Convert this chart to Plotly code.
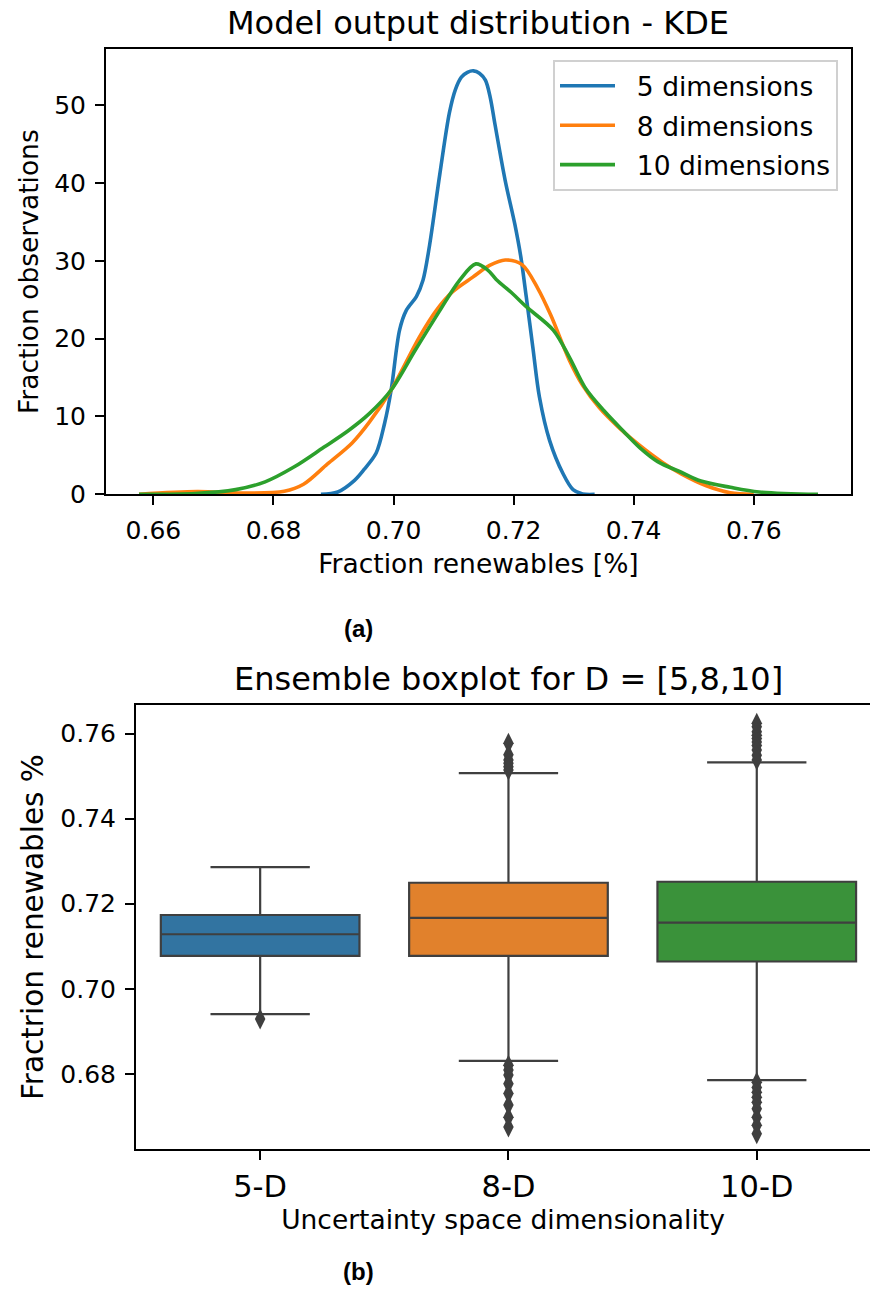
import plotly.graph_objects as go

W, H = 870, 1302
PAGE_H = 1318  # height of the rendered page that holds the figure

# KDE curves of the model output (fraction renewables vs. density)
x_5d = [0.6879, 0.6907, 0.6935, 0.6951, 0.6971, 0.6985, 0.6996, 0.7010, 0.7021, 0.7038,
        0.7049, 0.7060, 0.7077, 0.7093, 0.7103, 0.7113, 0.7123, 0.7133, 0.7143, 0.7153,
        0.7161, 0.7169, 0.7186, 0.7202, 0.7212, 0.7221, 0.7232, 0.7243, 0.7260, 0.7282,
        0.7299, 0.7315, 0.7335]
y_5d = [0.0, 0.3, 1.8, 3.2, 5.3, 9.1, 13.4, 21.1, 23.6, 25.4,
        27.5, 32.0, 41.1, 49.0, 52.0, 53.6, 54.2, 54.4, 54.1, 53.2,
        51.0, 47.5, 40.3, 34.7, 30.5, 25.4, 18.9, 12.5, 6.9, 2.7,
        0.6, 0.05, 0.0]

x_8d = [0.6576, 0.6673, 0.6750, 0.6818, 0.6850, 0.6890, 0.6931, 0.6960, 0.6996, 0.7043,
        0.7071, 0.7098, 0.7132, 0.7160, 0.7186, 0.7214, 0.7240, 0.7262, 0.7293, 0.7315,
        0.7343, 0.7375, 0.7408, 0.7448, 0.7480, 0.7521, 0.7561, 0.7600]
y_8d = [0.0, 0.35, 0.15, 0.4, 1.3, 3.9, 6.6, 9.3, 13.4, 20.2,
        23.6, 26.0, 27.9, 29.4, 30.1, 29.5, 26.5, 23.0, 17.2, 14.0,
        11.1, 8.6, 6.4, 4.1, 2.6, 1.1, 0.2, 0.0]

x_10d = [0.6576, 0.6670, 0.6737, 0.6786, 0.6834, 0.6883, 0.6925, 0.6960, 0.6996, 0.7036,
         0.7077, 0.7109, 0.7137, 0.7157, 0.7171, 0.7198, 0.7221, 0.7266, 0.7293, 0.7320,
         0.7351, 0.7383, 0.7410, 0.7440, 0.7480, 0.7512, 0.7561, 0.7609, 0.7707]
y_10d = [0.0, 0.1, 0.6, 1.6, 3.5, 6.0, 8.2, 10.4, 13.4, 18.5,
         23.6, 27.4, 29.6, 28.8, 27.6, 25.8, 24.1, 21.1, 17.6, 13.6,
         10.7, 8.1, 6.0, 4.2, 2.8, 1.7, 0.9, 0.3, 0.0]

kde_names = ["5 dimensions", "8 dimensions", "10 dimensions"]
kde_colors = ["#1f77b4", "#ff7f0e", "#2ca02c"]

# Ensemble box statistics per dimensionality
categories = ["5-D", "8-D", "10-D"]
q1 = [0.70773, 0.70773, 0.70641]
median = [0.71281, 0.71664, 0.71555]
q3 = [0.71734, 0.72492, 0.72516]
lower_whisker = [0.69406, 0.68305, 0.67852]
upper_whisker = [0.72859, 0.75070, 0.75320]
outliers = {
    "5-D": [0.6929],
    "8-D": [0.7577, 0.7550, 0.7538, 0.7530, 0.7522, 0.7514,
            0.6820, 0.6809, 0.6797, 0.6777, 0.6754, 0.6727, 0.6698, 0.6675],
    "10-D": [0.7624, 0.7616, 0.7604, 0.7596, 0.7588, 0.7580, 0.7572, 0.7561, 0.7549, 0.7538,
             0.6780, 0.6768, 0.6757, 0.6745, 0.6733, 0.6718, 0.6698, 0.6679, 0.6659],
}
box_colors = ["#3274a1", "#e1812c", "#3a923a"]
edge = "#3f3f3f"


def px(xp):
    return xp / W


def py(yp):
    # vertical page position (px from top) -> paper fraction
    return max(0.0, 1 - yp * PAGE_H / H / H)


FONT = "DejaVu Sans"
LEGEND_PAD = "\u00a0\u00a0"  # gap between the legend key line and its label
fig = go.Figure()

for i, (xs, ys, name, col) in enumerate(zip([x_5d, x_8d, x_10d], [y_5d, y_8d, y_10d], kde_names, kde_colors)):
    fig.add_trace(go.Scatter(
        x=xs, y=ys, name=LEGEND_PAD + name, mode="lines", legendgroup=f"g{i}",
        line=dict(color=col, width=3.6, shape="spline", smoothing=0.9),
        xaxis="x", yaxis="y",
    ))

for i, cat in enumerate(categories):
    fig.add_trace(go.Box(
        x=[cat], q1=[q1[i]], median=[median[i]], q3=[q3[i]],
        lowerfence=[lower_whisker[i]], upperfence=[upper_whisker[i]],
        fillcolor=box_colors[i], line=dict(color=edge, width=2.2),
        whiskerwidth=0.5, width=0.8, showlegend=False,
        xaxis="x2", yaxis="y2",
    ))
    fig.add_trace(go.Scatter(
        x=[cat] * len(outliers[cat]), y=outliers[cat], mode="markers",
        marker=dict(symbol="diamond-tall", size=15, color=edge, line=dict(width=0)),
        showlegend=False, xaxis="x2", yaxis="y2",
    ))

axis_common = dict(
    showline=True, linecolor="black", linewidth=2, showgrid=False, zeroline=False,
    ticks="outside", ticklen=9, tickwidth=2, tickcolor="black",
)

fig.update_layout(
    width=W, height=H, margin=dict(l=0, r=0, t=0, b=0),
    paper_bgcolor="white", plot_bgcolor="white",
    font=dict(family=FONT, color="black"),
    xaxis=dict(
        domain=[px(106), px(851)], anchor="y", range=[0.6521, 0.7762],
        tickvals=[0.66, 0.68, 0.70, 0.72, 0.74, 0.76], ticktext=["0.66", "0.68", "0.70", "0.72", "0.74", "0.76"],
        tickfont=dict(size=25), mirror=True, ticklabelstandoff=4,
        title=dict(text="Fraction renewables [%]", font=dict(size=26.5), standoff=10),
        **axis_common,
    ),
    yaxis=dict(
        domain=[py(494), py(49)], anchor="x", range=[0, 57.2],
        tickvals=[0, 10, 20, 30, 40, 50], tickfont=dict(size=25), mirror=True, ticklabelstandoff=4,
        title=dict(text="Fraction observations", font=dict(size=26.5), standoff=8),
        **axis_common,
    ),
    xaxis2=dict(
        domain=[px(136), 1.0], anchor="y2", type="category",
        categoryorder="array", categoryarray=categories, range=[-0.5, 2.456],
        tickfont=dict(size=30.5), mirror=True, ticklabelstandoff=1,
        title=dict(text="Uncertainty space dimensionality", font=dict(size=26.5), standoff=3),
        **axis_common,
    ),
    yaxis2=dict(
        domain=[py(1148), py(705)], anchor="x2", range=[0.6624, 0.7666],
        tickvals=[0.68, 0.70, 0.72, 0.74, 0.76], ticktext=["0.68", "0.70", "0.72", "0.74", "0.76"],
        tickfont=dict(size=25), ticklabelstandoff=4,
        title=dict(text="Fractrion renewables %", font=dict(size=29.5), standoff=8),
        **axis_common,
    ),
    legend=dict(
        x=px(838), y=py(60), xanchor="right", yanchor="top",
        bgcolor="rgba(255,255,255,0.85)", bordercolor="#d0d0d0", borderwidth=2,
        font=dict(size=26.5), traceorder="grouped", tracegroupgap=2, itemwidth=55,
    ),
    boxmode="overlay",
    annotations=[
        dict(text="Model output distribution - KDE", x=px(478), y=py(23), xref="paper", yref="paper",
             showarrow=False, font=dict(size=32), xanchor="center", yanchor="middle"),
        dict(text="Ensemble boxplot for D = [5,8,10]", x=px(508), y=py(679), xref="paper", yref="paper",
             showarrow=False, font=dict(size=32), xanchor="center", yanchor="middle"),
        dict(text="<b>(a)</b>", x=px(358), y=py(628), xref="paper", yref="paper", showarrow=False,
             font=dict(size=24, family="Liberation Sans"),
             xanchor="center", yanchor="middle"),
        dict(text="<b>(b)</b>", x=px(358), y=0, xref="paper", yref="paper", showarrow=False,
             font=dict(size=24, family="Liberation Sans"),
             xanchor="center", yanchor="bottom"),
    ],
)

fig.write_html("out.html")
